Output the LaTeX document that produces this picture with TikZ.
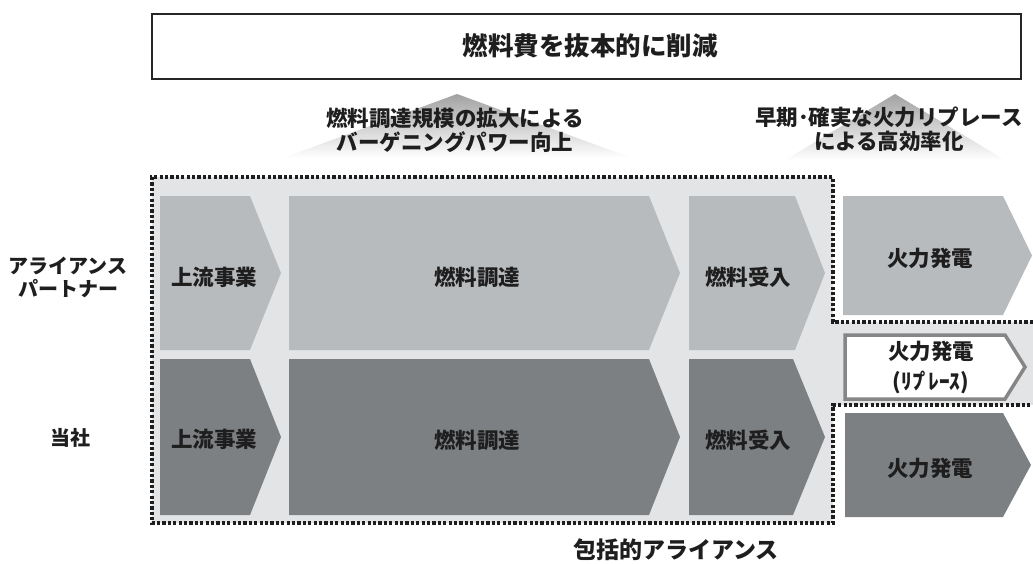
\documentclass[tikz,border=0pt]{standalone}
\usepackage{fontspec}
\setmainfont{Noto Sans CJK JP}[BoldFont={* Black}]
\definecolor{lite}{HTML}{B8BBBE}
\definecolor{darkc}{HTML}{7D8083}
\definecolor{bgc}{HTML}{E3E4E6}
\definecolor{ink}{HTML}{1E1E1E}
\definecolor{rim}{HTML}{868686}
\definecolor{dotc}{HTML}{1E1E1E}
\definecolor{shadec}{HTML}{A2A2A2}
\newcommand\hplate[6]{\fill[#6] (#1,#4) -- (#2,#4) -- (#3,{(#4+#5)/2}) -- (#2,#5) -- (#1,#5) -- cycle;}
\begin{document}
\begin{tikzpicture}[x=1pt,y=-1pt,
  txt/.style={inner sep=0pt, text=ink, align=center, font=\bfseries\fontsize{21.5}{24}\selectfont},
  sidelbl/.style={txt, font=\bfseries\fontsize{20}{23}\selectfont},
  titlelbl/.style={txt, font=\bfseries\fontsize{25.5}{28}\selectfont},
  bottomlbl/.style={txt, font=\bfseries\fontsize{23}{26}\selectfont},
  dotline/.style={draw=dotc, line width=3.4pt, dash pattern=on 3.2pt off 2.2pt},
  uptri/.style={top color=shadec, bottom color=white}
]
\useasboundingbox (0,0) rectangle (1033,563);
% title box
\draw[line width=2.5pt, draw=black!85] (152,14) rectangle (1021,79);
\node[titlelbl] (title) at (590,46) {燃料費を抜本的に削減};
% shaded up-triangles
\shade[uptri] (457,94) -- (632,158) -- (283,158) -- cycle;
\shade[uptri] (895,94) -- (1005,160) -- (785,160) -- cycle;
\node[txt] (effA) at (455,130) {燃料調達規模の拡大による\\バーゲニングパワー向上};
\node[txt] (effB) at (889,129) {早期･確実な火力リプレース\\による高効率化};
% alliance background
\fill[bgc] (152,177) -- (833,177) -- (833,322) -- (1033,322) -- (1033,405) -- (833,405) -- (833,523) -- (152,523) -- cycle;
% row 1 (partner)
\hplate{160}{250}{281}{196}{350}{lite}
\hplate{289}{649}{680}{196}{350}{lite}
\hplate{689}{795}{825}{196}{350}{lite}
\hplate{843}{1003}{1032}{196}{315}{lite}
% row 2 (company)
\hplate{160}{250}{281}{359}{515}{darkc}
\hplate{289}{649}{680}{359}{515}{darkc}
\hplate{689}{793}{825}{359}{515}{darkc}
\hplate{845}{1003}{1031}{413}{517}{darkc}
% replacement box
\draw[fill=white, draw=rim, line width=3.5pt, line join=miter] (845,335) -- (1005,335) -- (1025,367) -- (1005,399) -- (845,399) -- cycle;
% dotted alliance outline
\draw[dotline] (1033,322) -- (833,322) -- (833,177) -- (152,177) -- (152,523) -- (833,523) -- (833,405) -- (1033,405);
% texts
\node[sidelbl] (partner) at (68,277) {アライアンス\\パートナー};
\node[sidelbl] (us) at (70,438) {当社};
\node[txt] (up1) at (214,277) {上流事業};
\node[txt] (proc1) at (477,277) {燃料調達};
\node[txt] (recv1) at (748,277) {燃料受入};
\node[txt] (pow1) at (930,258) {火力発電};
\node[txt] (up2) at (214,439) {上流事業};
\node[txt] (proc2) at (477,440) {燃料調達};
\node[txt] (recv2) at (748,440) {燃料受入};
\node[txt] (pow2) at (930,468) {火力発電};
\node[txt, font=\bfseries\fontsize{21.5}{30}\selectfont] (rep) at (931,368) {火力発電\\(ﾘﾌ\kern-0.12emﾟ\kern-0.12emﾚｰｽ)};
\node[bottomlbl] (alliance) at (676,550) {包括的アライアンス};
\end{tikzpicture}
\end{document}
